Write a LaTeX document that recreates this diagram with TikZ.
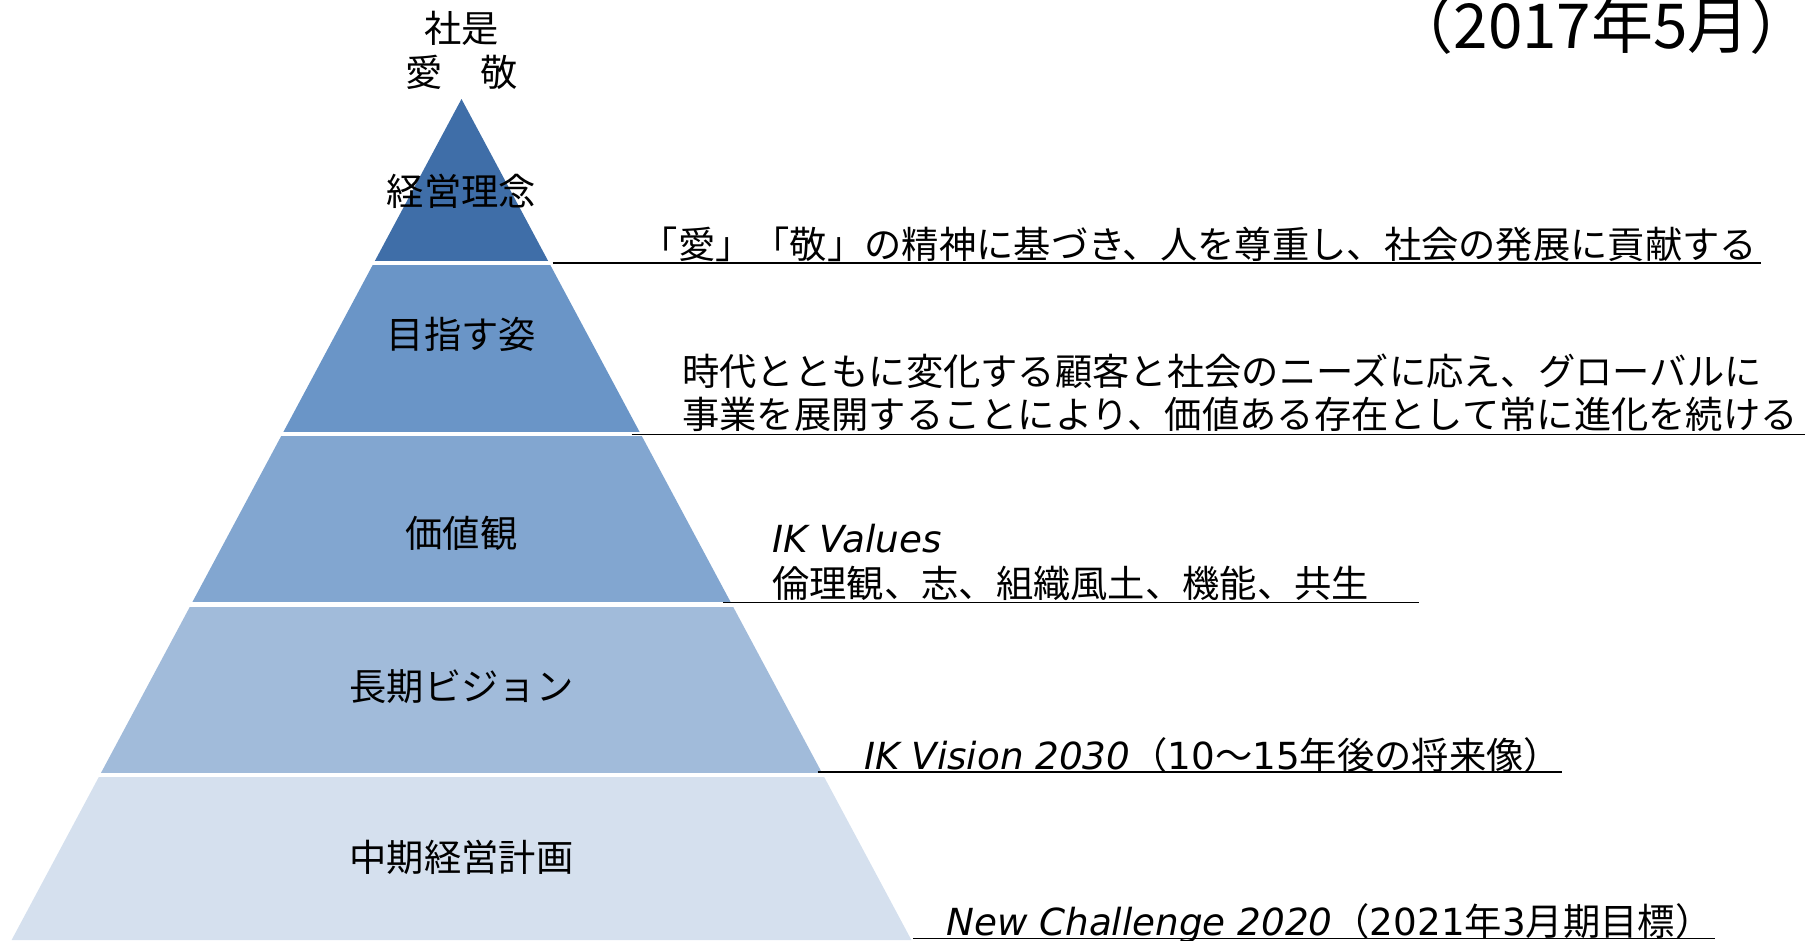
\documentclass[tikz,border=0pt]{standalone}
\usepackage{fontspec}
\setmainfont{DejaVu Sans}
\newfontfamily\jp{Noto Sans CJK JP}
\definecolor{tierA}{RGB}{63,110,168}
\definecolor{tierB}{RGB}{106,149,199}
\definecolor{tierC}{RGB}{130,166,208}
\definecolor{tierD}{RGB}{161,187,218}
\definecolor{tierE}{RGB}{213,224,238}
\tikzset{
  lbl/.style={inner sep=0pt, anchor=base, font=\fontsize{37.3}{40}\selectfont},
  txt/.style={lbl, anchor=base west},
  uline/.style={draw=black, line width=1.6pt},
}
\begin{document}
\begin{tikzpicture}[x=1pt,y=-1pt]
\useasboundingbox (0,0) rectangle (1805,940);
\clip (0,0) rectangle (1805,940);
\coordinate (apex) at (461.5,99);
\coordinate (bl) at (11.6,940);
\coordinate (br) at (911.4,940);
\foreach \ya/\yb/\col in {99/260/tierA, 265/431/tierB, 436/601/tierC, 607/772/tierD, 777.5/945/tierE}{
  \begin{scope}
    \clip (0,\ya) rectangle (1805,\yb);
    \fill[\col] (apex) -- (bl) -- (br) -- cycle;
  \end{scope}
}
% tier labels
\node[lbl] (shaze) at (461.5,42.3) {\jp 社是};
\node[lbl] (aikei) at (461.5,86.5) {\jp 愛　敬};
\node[lbl] (l1) at (461.5,205.7) {\jp 経営理念};
\node[lbl] (l2) at (461.5,348) {\jp 目指す姿};
\node[lbl] (l3) at (461.5,547) {\jp 価値観};
\node[lbl] (l4) at (461.5,700.7) {\jp 長期ビジョン};
\node[lbl] (l5) at (461.5,871.5) {\jp 中期経営計画};
% year
\node[lbl, anchor=base east, font=\fontsize{62}{68}\selectfont] (year) at (1812,48) {\jp （2017年5月）};
% right texts
\node[txt] (m1) at (640.5,258.8) {\jp 「愛」「敬」の精神に基づき、人を尊重し、社会の発展に貢献する};
\node[txt] (v1) at (682,385) {\jp 時代とともに変化する顧客と社会のニーズに応え、グローバルに};
\node[txt] (v2) at (682,428.6) {\jp 事業を展開することにより、価値ある存在として常に進化を続ける};
\node[txt] (k1) at (772,552.4) {\itshape IK Values};
\node[txt] (k2) at (772,597.9) {\jp 倫理観、志、組織風土、機能、共生};
\node[txt] (vis) at (864,769.5) {\textit{IK Vision 2030}{\jp （}10{\jp ～}15{\jp 年後の将来像）}};
\node[txt] (nc) at (946,935) {\textit{New Challenge 2020}{\jp （}2021{\jp 年}3{\jp 月期目標）}};
% underlines
\coordinate (u1a) at (552.7,262.7); \coordinate (u1b) at (1761,262.7);
\coordinate (u2a) at (631.7,434.3); \coordinate (u2b) at (1805,434.3);
\coordinate (u3a) at (723,602.3);   \coordinate (u3b) at (1419,602.3);
\coordinate (u4a) at (817.7,772);   \coordinate (u4b) at (1562,772);
\coordinate (u5a) at (913,938.3);   \coordinate (u5b) at (1715,938.3);
\draw[uline] (u1a) -- (u1b);
\draw[uline] (u2a) -- (u2b);
\draw[uline] (u3a) -- (u3b);
\draw[uline] (u4a) -- (u4b);
\draw[uline] (u5a) -- (u5b);
\end{tikzpicture}
\end{document}
